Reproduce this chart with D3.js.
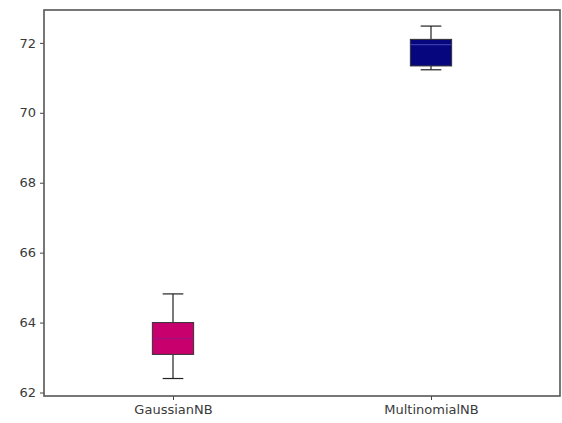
<!DOCTYPE html>
<html>
<head>
<meta charset="utf-8">
<script src="https://cdn.jsdelivr.net/npm/d3@7"></script>
<style>
  body { margin: 0; background: #fff; }
  svg { display: block; }
</style>
</head>
<body>
<svg id="chart"></svg>
<script>
// box stats
const models = ['GaussianNB', 'MultinomialNB'];
const whiskerLow = [62.4, 71.23];
const q1 = [63.09, 71.34];
const medians = [63.54, 71.95];
const q3 = [64.0, 72.1];
const whiskerHigh = [64.82, 72.48];
const yTicks = [62, 64, 66, 68, 70, 72];

const fills = ['#c8006e', '#06067f'];
const medianCols = ['#a3107f', '#3a3aa8'];

const W = 562, H = 423;
const margin = {top: 10, right: 2, bottom: 27, left: 44},
      width = W - margin.left - margin.right,
      height = H - margin.top - margin.bottom;

const svg = d3.select('#chart').attr('width', W).attr('height', H);
const g = svg.append('g').attr('transform', `translate(${margin.left},${margin.top})`);

const x = d3.scaleLinear().domain([0.5, 2.5]).range([0, width]);
const y = d3.scaleLinear().domain([61.9, 72.94]).range([height, 0]);

const boxW = x(1.08) - x(0.92);

const yAxis = g.append('g')
  .call(d3.axisLeft(y).tickValues(yTicks).tickSize(4).tickPadding(4));
const xAxis = g.append('g')
  .attr('transform', `translate(0,${height})`)
  .call(d3.axisBottom(x).tickValues([1, 2]).tickFormat((d, i) => models[i]).tickSize(4).tickPadding(5));

[yAxis, xAxis].forEach(a => {
  a.select('.domain').remove();
  a.selectAll('text').style('font-family', "'DejaVu Sans', sans-serif")
    .style('font-size', '13px').style('fill', '#3a3a3a');
  a.selectAll('line').style('stroke', '#444');
});

const data = models.map((m, i) => ({
  pos: i + 1, lo: whiskerLow[i], q1: q1[i], med: medians[i], q3: q3[i], hi: whiskerHigh[i],
  fill: fills[i], mc: medianCols[i]
}));

const box = g.selectAll('g.box').data(data).enter().append('g').attr('class', 'box');

// whiskers
box.append('line')
  .attr('x1', d => x(d.pos)).attr('x2', d => x(d.pos))
  .attr('y1', d => y(d.lo)).attr('y2', d => y(d.q1))
  .style('stroke', '#222').style('stroke-width', 1.2);
box.append('line')
  .attr('x1', d => x(d.pos)).attr('x2', d => x(d.pos))
  .attr('y1', d => y(d.q3)).attr('y2', d => y(d.hi))
  .style('stroke', '#222').style('stroke-width', 1.2);
// caps
['lo', 'hi'].forEach(k => {
  box.append('line')
    .attr('x1', d => x(d.pos) - boxW / 4).attr('x2', d => x(d.pos) + boxW / 4)
    .attr('y1', d => y(d[k])).attr('y2', d => y(d[k]))
    .style('stroke', '#222').style('stroke-width', 1.2);
});
// boxes
box.append('rect')
  .attr('x', d => x(d.pos) - boxW / 2)
  .attr('width', boxW)
  .attr('y', d => y(d.q3))
  .attr('height', d => y(d.q1) - y(d.q3))
  .style('fill', d => d.fill)
  .style('stroke', '#333').style('stroke-width', 1);
// medians
box.append('line')
  .attr('x1', d => x(d.pos) - boxW / 2).attr('x2', d => x(d.pos) + boxW / 2)
  .attr('y1', d => y(d.med)).attr('y2', d => y(d.med))
  .style('stroke', d => d.mc).style('stroke-width', 1.2);

// frame
g.append('rect')
  .attr('width', width).attr('height', height)
  .style('fill', 'none').style('stroke', '#555').style('stroke-width', 1.6);
</script>
</body>
</html>
